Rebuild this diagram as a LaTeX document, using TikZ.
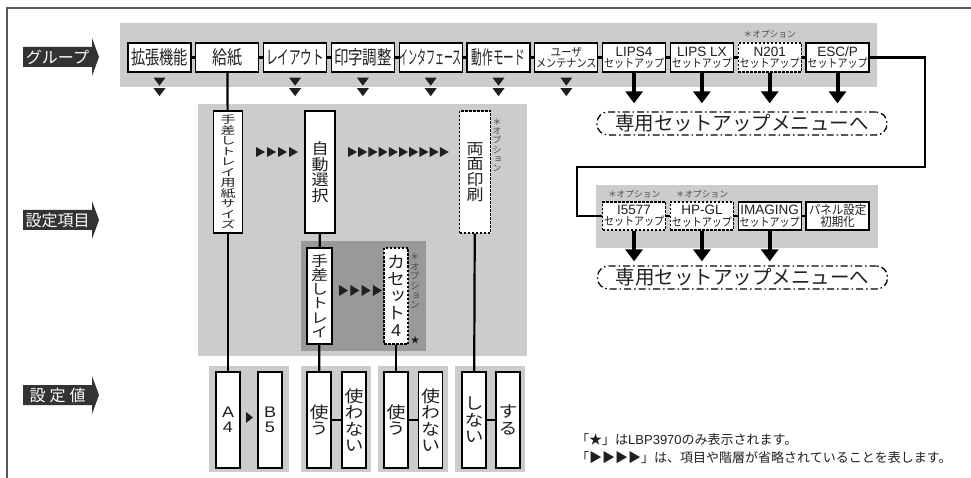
\documentclass[tikz,border=0pt]{standalone}
\usepackage{fontspec}
\usepackage{graphicx}
\setmainfont{Noto Sans CJK JP}
\newfontfamily\vfont{Noto Sans CJK JP}[RawFeature=+vert]
\newfontfamily\latinfont{Liberation Sans}
\usetikzlibrary{arrows.meta}
\definecolor{bandgray}{gray}{0.8}
\definecolor{subgray}{gray}{0.6}
\definecolor{bannergray}{gray}{0.2}
\definecolor{framegray}{gray}{0.35}
\definecolor{ink}{gray}{0.12}
\newcommand\bigfont{\fontsize{19}{19}\selectfont}
\newcommand\latinlabel[1]{{\latinfont\fontsize{13.5}{13.5}\selectfont #1}}
\makeatletter
% characters stacked one under another
\newcommand\vtext[2]{\scalebox{1}[#1]{\vbox{\lineskiplimit=-\maxdimen\baselineskip=1em
  \@tfor\vt@c:=#2\do{\hbox to 1em{\hss\vt@c\hss}}}}}
\makeatother
\newcommand\twoline[3]{\vbox{\lineskiplimit=-\maxdimen\baselineskip=#1
  \hbox to 60pt{\hss#2\hss}\hbox to 60pt{\hss#3\hss}}}
\tikzset{
  grpbox/.style={draw=black, line width=1.3pt, fill=white, text=ink, inner sep=0pt,
    minimum width=63pt, minimum height=29pt, font=\fontsize{11.5}{11.5}\selectfont},
  setbox/.style={grpbox, minimum height=28pt},
  optbox/.style={dash pattern=on 2.5pt off 1.5pt},
  vitem/.style 2 args={draw=black, line width=1.3pt, fill=white, text=ink, inner sep=0pt,
    minimum width=#1, minimum height=#2, font=\vfont},
  conn/.style={line width=2.2pt, draw=black},
  bigarrow/.style={line width=4pt, -{Triangle[width=17pt,length=12pt]}},
  setupmenu/.style={draw=black, line width=1.3pt, dash pattern=on 7pt off 3pt on 1.5pt off 3pt,
    rounded corners=11pt, minimum width=290pt, minimum height=23pt, inner sep=0pt,
    text=ink, font=\fontsize{19.5}{19.5}\selectfont},
  optnote/.style={text=black!70, inner sep=0pt, font=\fontsize{8.7}{8.7}\selectfont},
  bannertext/.style={text=white, inner sep=0pt, font=\fontsize{16}{16}\selectfont}
}
\begin{document}
\begin{tikzpicture}[x=1pt,y=-1pt]
\useasboundingbox (0,0) rectangle (971,478);
% frame and gray areas
\draw[framegray, line width=2pt] (7,478) -- (7,8) -- (971,8);
\fill[bandgray] (120,23) rectangle (877,87);
\fill[bandgray] (596,185) rectangle (878,248);
\fill[bandgray] (198,104) rectangle (527,356);
\fill[subgray] (301,241) rectangle (426,351);
\foreach \xl/\xr in {209/289,301/371,378/448,455/525}
    \fill[bandgray] (\xl,366) rectangle (\xr,472);

% banners on the left
\foreach \nm/\yc/\txt in {grp/57/{グループ}, item/220/{設定項目}, val/395/{設\hspace{4pt}定\hspace{4pt}値}} {
    \fill[bannergray] (23,\yc-10) -- (92,\yc-10) -- (92,\yc-19) -- (99,\yc) -- (92,\yc+19) -- (92,\yc+10) -- (23,\yc+10) -- cycle;
    \node[bannertext] (\nm) at (57.5,\yc) {\txt};
}

% group row
\node[grpbox] (ext) at (159.5,57.5) {\bigfont\scalebox{0.75}[1]{拡張機能}};
\node[grpbox] (paper) at (227.3,57.5) {\bigfont\scalebox{0.79}[1]{給紙}};
\node[grpbox] (layout) at (295.1,57.5) {\bigfont\scalebox{0.61}[1]{レイアウト}};
\node[grpbox] (quality) at (362.9,57.5) {\bigfont\scalebox{0.76}[1]{印字調整}};
\node[grpbox] (iface) at (430.7,57.5) {\bigfont\scalebox{0.47}[1]{インタフェース}};
\node[grpbox] (mode) at (498.5,57.5) {\bigfont\scalebox{0.56}[1]{動作モード}};
\node[grpbox] (maint) at (566.3,57.5) {\twoline{11.5pt}{\scalebox{0.92}[1]{ユーザ}}{\scalebox{0.88}[1]{メンテナンス}}};
\node[grpbox] (lips4) at (634.1,57.5) {\twoline{11.5pt}{\latinlabel{LIPS4}}{\scalebox{0.87}[1]{セットアップ}}};
\node[grpbox] (lipslx) at (701.9,57.5) {\twoline{11.5pt}{\latinlabel{LIPS LX}}{\scalebox{0.87}[1]{セットアップ}}};
\node[grpbox, optbox] (nsetup) at (769.7,57.5) {\twoline{11.5pt}{\latinlabel{N201}}{\scalebox{0.87}[1]{セットアップ}}};
\node[grpbox] (escp) at (837.5,57.5) {\twoline{11.5pt}{\latinlabel{ESC/P}}{\scalebox{0.87}[1]{セットアップ}}};
\node[optnote] (optn201) at (769.7,34) {＊オプション};
\foreach \a/\b in {ext/paper,paper/layout,layout/quality,quality/iface,iface/mode,mode/maint,maint/lips4,lips4/lipslx,lipslx/nsetup,nsetup/escp}
    \draw[conn] (\a) -- (\b);
\foreach \nm in {ext,layout,quality,iface,mode,maint} {
    \fill[ink] (\nm.south) ++(-6,5) -- ++(12,0) -- ++(-6,8) -- cycle;
    \fill[ink] (\nm.south) ++(-6,15.5) -- ++(12,0) -- ++(-6,8) -- cycle;
}
\node[setupmenu] (menu1) at (742,123.5) {専用セットアップメニューへ};
\foreach \nm in {lips4,lipslx,nsetup,escp}
    \draw[bigarrow, shorten >=8pt] (\nm.south) -- (\nm.south |- menu1.north);

% second setup row
\node[setbox, optbox] (i5577) at (634.1,216) {\twoline{11.5pt}{\latinlabel{I5577}}{\scalebox{0.87}[1]{セットアップ}}};
\node[setbox, optbox] (hpgl) at (701.9,216) {\twoline{11.5pt}{\latinlabel{HP-GL}}{\scalebox{0.87}[1]{セットアップ}}};
\node[setbox] (imaging) at (769.7,216) {\twoline{11.5pt}{\latinlabel{IMAGING}}{\scalebox{0.87}[1]{セットアップ}}};
\node[setbox, font=\fontsize{12.5}{12.5}\selectfont] (panel) at (837.5,216) {\twoline{12.5pt}{\scalebox{0.92}[1]{パネル設定}}{\scalebox{0.92}[1]{初期化}}};
\node[optnote] (opti5577) at (634.1,194) {＊オプション};
\node[optnote] (opthpgl) at (701.9,194) {＊オプション};
\foreach \a/\b in {i5577/hpgl,hpgl/imaging,imaging/panel}
    \draw[conn] (\a) -- (\b);
\draw[conn] (escp) -- (925,57.5) |- (577,167) |- (i5577);
\node[setupmenu] (menu2) at (742.5,277.5) {専用セットアップメニューへ};
\foreach \nm in {i5577,hpgl,imaging}
    \draw[bigarrow, shorten >=4pt] (\nm.south) -- (\nm.south |- menu2.north);

% setting items
\node[vitem={29pt}{122pt}, font=\vfont\fontsize{15}{15}\selectfont] (traysize) at (228,172) {\vtext{0.7}{手差しトレイ用紙サイズ}};
\node[vitem={30pt}{122pt}, font=\vfont\fontsize{17}{17}\selectfont] (autosel) at (320,172) {\vtext{0.91}{自動選択}};
\node[vitem={31pt}{122pt}, optbox, font=\vfont\fontsize{17}{17}\selectfont] (duplex) at (475,172) {\vtext{0.91}{両面印刷}};
\node[optnote, font=\vfont\fontsize{9.2}{9.2}\selectfont] (optdup) at (497,145) {\vtext{1}{＊オプション}};
\node[vitem={25pt}{96pt}, font=\vfont\fontsize{17}{17}\selectfont] (tray) at (319.5,296) {\vtext{0.84}{手差しトレイ}};
\node[vitem={24pt}{96pt}, optbox, font=\vfont\fontsize{18}{18}\selectfont] (cas4) at (396,296) {\vtext{0.95}{カセット{\latinfont 4}}};
\node[optnote, font=\vfont\fontsize{9.6}{9.6}\selectfont] (optcas) at (415,281) {\vtext{1}{＊オプション}};
\node[optnote, text=ink, font=\fontsize{9}{9}\selectfont] (star) at (415,340) {★};
\foreach \x in {256,267,278,289}
    \fill[ink] (\x,147) -- ++(9,5) -- ++(-9,5) -- cycle;
\foreach \i in {0,...,9}
    \fill[ink] (348+10.2*\i,147) -- ++(9,5) -- ++(-9,5) -- cycle;
\foreach \i in {0,...,3}
    \fill[ink] (339+11.3*\i,285) -- ++(9,5.5) -- ++(-9,5.5) -- cycle;

% setting values
\node[vitem={24pt}{96pt}, font=\latinfont\fontsize{18}{18}\selectfont] (vA4) at (228,420) {\vtext{0.85}{A4}};
\node[vitem={24pt}{96pt}, font=\latinfont\fontsize{18}{18}\selectfont] (vB5) at (270,420) {\vtext{0.85}{B5}};
\node[vitem={24pt}{96pt}, font=\vfont\fontsize{19}{19}\selectfont] (vuse1) at (319,420) {\vtext{0.86}{使う}};
\node[vitem={24pt}{96pt}, font=\vfont\fontsize{19}{19}\selectfont] (vnouse1) at (354,420) {\vtext{0.86}{使わない}};
\node[vitem={24pt}{96pt}, font=\vfont\fontsize{19}{19}\selectfont] (vuse2) at (396,420) {\vtext{0.86}{使う}};
\node[vitem={24pt}{96pt}, font=\vfont\fontsize{19}{19}\selectfont] (vnouse2) at (430.5,420) {\vtext{0.86}{使わない}};
\node[vitem={24pt}{96pt}, font=\vfont\fontsize{19}{19}\selectfont] (vno) at (474,420) {\vtext{0.86}{しない}};
\node[vitem={24pt}{96pt}, font=\vfont\fontsize{19}{19}\selectfont] (vyes) at (508,420) {\vtext{0.86}{する}};
\fill[ink] (246,412) -- ++(7,5.5) -- ++(-7,5.5) -- cycle;

% links down the tree
\draw[conn] (paper) -- (traysize);
\draw[conn] (traysize) -- (vA4);
\draw[conn] (autosel) -- (tray);
\draw[conn] (tray) -- (vuse1);
\draw[conn] (cas4) -- (vuse2);
\draw[conn] (duplex) -- (vno);
\foreach \a/\b in {vuse1/vnouse1,vuse2/vnouse2,vno/vyes}
    \draw[conn] (\a) -- (\b);

% notes
\node[anchor=north west, align=left, text=ink, inner sep=0pt, font=\fontsize{13}{18}\selectfont] (notes) at (576,433)
    {「★」は{\latinfont LBP3970}のみ表示されます。\\「▶▶▶▶」は、項目や階層が省略されていることを表します。};
\end{tikzpicture}
\end{document}
